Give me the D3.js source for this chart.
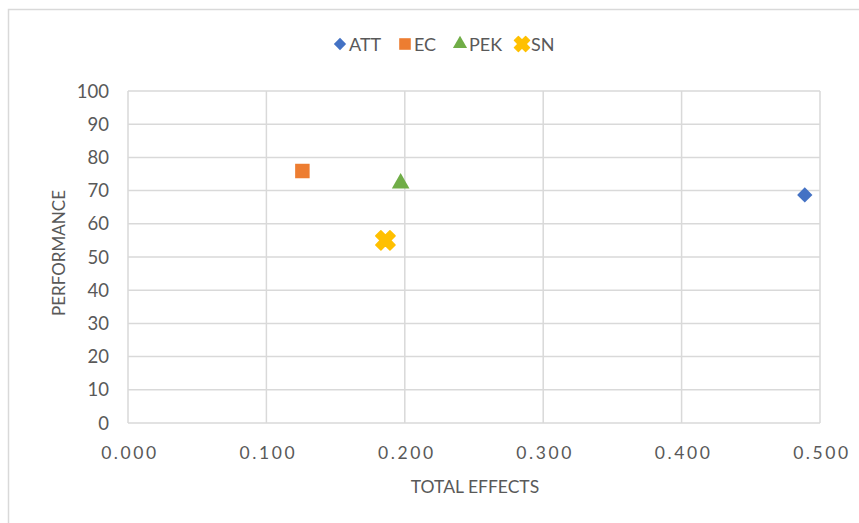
<!DOCTYPE html>
<html><head><meta charset="utf-8">
<script src="https://cdn.jsdelivr.net/npm/d3@7"></script>
<style>
body{margin:0;background:#fff;}
svg{display:block;font-family:Lato,"Open Sans",sans-serif;}
</style></head>
<body><svg id="c" width="859" height="523"></svg>
<script>
const seriesNames = ["ATT","EC","PEK","SN"];
const totalEffects = [0.489, 0.126, 0.197, 0.186];
const performance = [68.7, 75.9, 72.5, 55];
const colors = ["#4472C4","#ED7D31","#70AD47","#FFC000"];
const xTicks = [0,0.1,0.2,0.3,0.4,0.5];
const yTicks = [0,10,20,30,40,50,60,70,80,90,100];

const svg = d3.select("#c");
svg.append("rect").attr("x",8.5).attr("y",9.5).attr("width",900).attr("height",600)
  .attr("fill","#fff").attr("stroke","#d9d9d9").attr("stroke-width",1.5);

const x = d3.scaleLinear().domain([0,0.5]).range([128,820]);
const y = d3.scaleLinear().domain([0,100]).range([423,91]);

const grid = svg.append("g");
grid.selectAll("line.v").data(xTicks).join("line")
  .attr("x1",d=>x(d)).attr("x2",d=>x(d)).attr("y1",y(0)).attr("y2",y(100))
  .attr("stroke","#d9d9d9").attr("stroke-width",1.5);
grid.selectAll("line.h").data(yTicks).join("line")
  .attr("x1",x(0)).attr("x2",x(0.5)).attr("y1",d=>y(d)).attr("y2",d=>y(d))
  .attr("stroke","#d9d9d9").attr("stroke-width",1.5);

const tc = "#595959";
svg.append("g").selectAll("text").data(yTicks).join("text")
  .attr("x",109).attr("y",d=>y(d)+6.5).attr("text-anchor","end")
  .attr("font-size",18.5).attr("fill",tc).text(d=>d);
svg.append("g").selectAll("text").data(xTicks).join("text")
  .attr("x",d=>x(d)+2).attr("y",459).attr("text-anchor","middle")
  .attr("font-size",17.5).attr("letter-spacing","2.6px").attr("fill",tc).text(d=>d3.format(".3f")(d));

svg.append("text").attr("x",475).attr("y",493).attr("text-anchor","middle")
  .attr("font-size",17.5).attr("fill",tc).text("TOTAL EFFECTS");
svg.append("text").attr("transform","translate(65,253) rotate(-90)").attr("text-anchor","middle")
  .attr("font-size",17).attr("fill",tc).text("PERFORMANCE");

// thick cross path (plus rotated 45deg)
function crossPath(L,w){
  const p=[[-w,-L],[w,-L],[w,-w],[L,-w],[L,w],[w,w],[w,L],[-w,L],[-w,w],[-L,w],[-L,-w],[-w,-w]];
  const c=Math.SQRT1_2;
  return "M"+p.map(([a,b])=>[(a-b)*c,(a+b)*c].join(",")).join("L")+"Z";
}
const shapes = [
  ()=>d3.symbol().type(d3.symbolDiamond2).size(150)(),
  ()=>d3.symbol().type(d3.symbolSquare).size(210)(),
  ()=>d3.symbol().type(d3.symbolTriangle).size(135)(),
  ()=>crossPath(10,3.6)
];
function drawMarker(g,i,cx,cy,scale){
  const p = g.append("path").attr("d",shapes[i]())
    .attr("transform",`translate(${cx},${cy}) scale(${scale})`)
    .attr("fill",colors[i]);
  if(i===3) p.attr("stroke",colors[i]).attr("stroke-width",1.5).attr("stroke-linejoin","round");
}
const pts = svg.append("g");
seriesNames.forEach((s,i)=>{
  drawMarker(pts,i,x(totalEffects[i]),y(performance[i]) + (i===2?1:0),1);
});

const legX = [340,405,460,522];
const leg = svg.append("g");
seriesNames.forEach((s,i)=>{
  drawMarker(leg,i,legX[i],44,0.8);
  leg.append("text").attr("x",legX[i]+9).attr("y",50.5).attr("font-size",18).attr("fill",tc).text(s);
});
</script></body></html>
